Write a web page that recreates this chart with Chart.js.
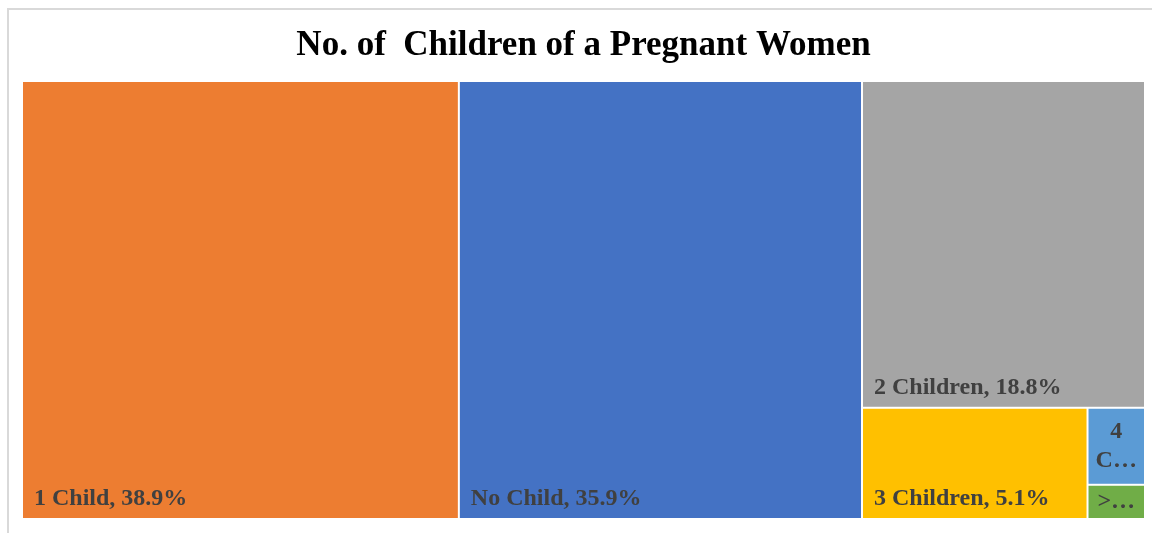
<!DOCTYPE html>
<html lang="en">
<head>
  <meta charset="UTF-8" />
  <title>No. of Children of a Pregnant Women</title>
  <script src="https://cdn.jsdelivr.net/npm/chart.js@4.4.1/dist/chart.umd.min.js"></script>
  <style>
    html, body {
      margin: 0;
      padding: 0;
      background: #fff;
      overflow: hidden;
    }
    .marco {
      position: absolute;
      left: 7px;
      top: 8px;
      width: 1200px;
      height: 600px;
      border-left: 2px solid #d9d9d9;
      border-top: 2px solid #d9d9d9;
    }
    #grafico {
      position: absolute;
      left: 0;
      top: 0;
    }
  </style>
</head>
<body>
  <div class="marco"></div>
  <canvas id="grafico" width="1152" height="533"></canvas>

  <script>
    // datos del treemap
    const categorias = ['1 Child', 'No Child', '2 Children', '3 Children', '4 Children', '>4 Children'];
    const porcentajes = [38.9, 35.9, 18.8, 5.1, 0.9, 0.4];
    const colores = ['#ED7D31', '#4472C4', '#A5A5A5', '#FFC000', '#5B9BD5', '#70AD47'];

    const fuenteEtiqueta = 'bold 24px "Liberation Serif", "Times New Roman", serif';

    function peor(fila, lado) {
      const s = fila.reduce((a, b) => a + b.area, 0);
      const max = Math.max(...fila.map(f => f.area));
      const min = Math.min(...fila.map(f => f.area));
      return Math.max(lado * lado * max / (s * s), (s * s) / (lado * lado * min));
    }

    // squarified treemap en pixeles
    function squarify(items, rect) {
      const out = [];
      let resto = items.slice();
      let r = { ...rect };
      while (resto.length) {
        const lado = Math.min(r.w, r.h);
        const fila = [resto[0]];
        let i = 1;
        while (i < resto.length && peor(fila.concat(resto[i]), lado) <= peor(fila, lado)) {
          fila.push(resto[i]);
          i++;
        }
        const s = fila.reduce((a, b) => a + b.area, 0);
        if (r.w >= r.h) {
          const grosor = s / r.h;
          let y = r.y;
          fila.forEach(f => {
            const h = f.area / grosor;
            out.push({ ...f, x: r.x, y: y, w: grosor, h: h });
            y += h;
          });
          r.x += grosor; r.w -= grosor;
        } else {
          const grosor = s / r.w;
          let x = r.x;
          fila.forEach(f => {
            const w = f.area / grosor;
            out.push({ ...f, x: x, y: r.y, w: w, h: grosor });
            x += w;
          });
          r.y += grosor; r.h -= grosor;
        }
        resto = resto.slice(fila.length);
      }
      return out;
    }

    function recortar(ctx, texto, ancho) {
      if (ctx.measureText(texto).width <= ancho) return texto;
      let t = texto;
      while (t.length > 1 && ctx.measureText(t + '…').width > ancho) t = t.slice(0, -1);
      return t.trim() + '…';
    }

    const pluginTreemap = {
      id: 'treemap',
      beforeDatasetsDraw(chart) {
        const ctx = chart.ctx;
        const sx = chart.scales.x, sy = chart.scales.y;
        const x0 = sx.getPixelForValue(0), x1 = sx.getPixelForValue(100);
        const y0 = sy.getPixelForValue(100), y1 = sy.getPixelForValue(0);
        const total = porcentajes.reduce((a, b) => a + b, 0);
        const areaTotal = (x1 - x0) * (y1 - y0);
        const items = categorias.map((c, i) => ({
          label: c, valor: porcentajes[i], color: colores[i],
          area: porcentajes[i] / total * areaTotal
        }));
        const celdas = squarify(items, { x: x0, y: y0, w: x1 - x0, h: y1 - y0 });

        ctx.save();
        celdas.forEach(c => {
          ctx.fillStyle = c.color;
          ctx.fillRect(c.x + 1, c.y + 1, c.w - 2, c.h - 2);
        });

        ctx.font = fuenteEtiqueta;
        ctx.fillStyle = '#404040';
        ctx.textBaseline = 'alphabetic';
        celdas.forEach(c => {
          const texto = c.label + ', ' + c.valor.toFixed(1) + '%';
          const pad = 12;
          if (ctx.measureText(texto).width <= c.w - 2 * pad) {
            ctx.textAlign = 'left';
            ctx.fillText(texto, c.x + pad, c.y + c.h - 14);
            return;
          }
          // no entra: partir en lineas centradas
          const ancho = c.w - 10;
          const alto = 29;
          const maxLineas = Math.max(1, Math.floor((c.h - 4) / alto));
          const palabras = texto.split(' ');
          const lineas = [];
          let actual = '';
          for (let k = 0; k < palabras.length; k++) {
            const prueba = actual ? actual + ' ' + palabras[k] : palabras[k];
            if (ctx.measureText(prueba).width <= ancho) {
              actual = prueba;
              continue;
            }
            if (actual) {
              lineas.push(actual);
              actual = palabras[k];
            } else {
              actual = palabras[k];
            }
            if (lineas.length >= maxLineas - 1) {
              actual = palabras.slice(k).join(' ');
              break;
            }
          }
          if (lineas.length < maxLineas) lineas.push(recortar(ctx, actual, ancho));
          if (lineas.length === 1) lineas[0] = recortar(ctx, texto, ancho);
          ctx.textAlign = 'center';
          const inicio = c.y + c.h / 2 - (lineas.length * alto) / 2 + alto * 0.72;
          lineas.forEach((l, k) => {
            ctx.fillText(l, c.x + c.w / 2, inicio + k * alto);
          });
        });
        ctx.restore();
      }
    };

    new Chart(document.getElementById('grafico'), {
      type: 'scatter',
      data: {
        datasets: [{
          label: 'No. of Children',
          data: [],
          pointRadius: 0
        }]
      },
      options: {
        responsive: false,
        animation: false,
        layout: {
          padding: { left: 22, right: 7, top: 25, bottom: 14 }
        },
        scales: {
          x: { type: 'linear', min: 0, max: 100, display: false },
          y: { type: 'linear', min: 0, max: 100, display: false }
        },
        plugins: {
          legend: { display: false },
          tooltip: { enabled: false },
          title: {
            display: true,
            text: 'No. of  Children of a Pregnant Women',
            color: '#000',
            font: { family: '"Liberation Serif", "Times New Roman", serif', size: 35, weight: 'bold' },
            padding: { top: 0, bottom: 14 }
          }
        }
      },
      plugins: [pluginTreemap]
    });
  </script>
</body>
</html>
